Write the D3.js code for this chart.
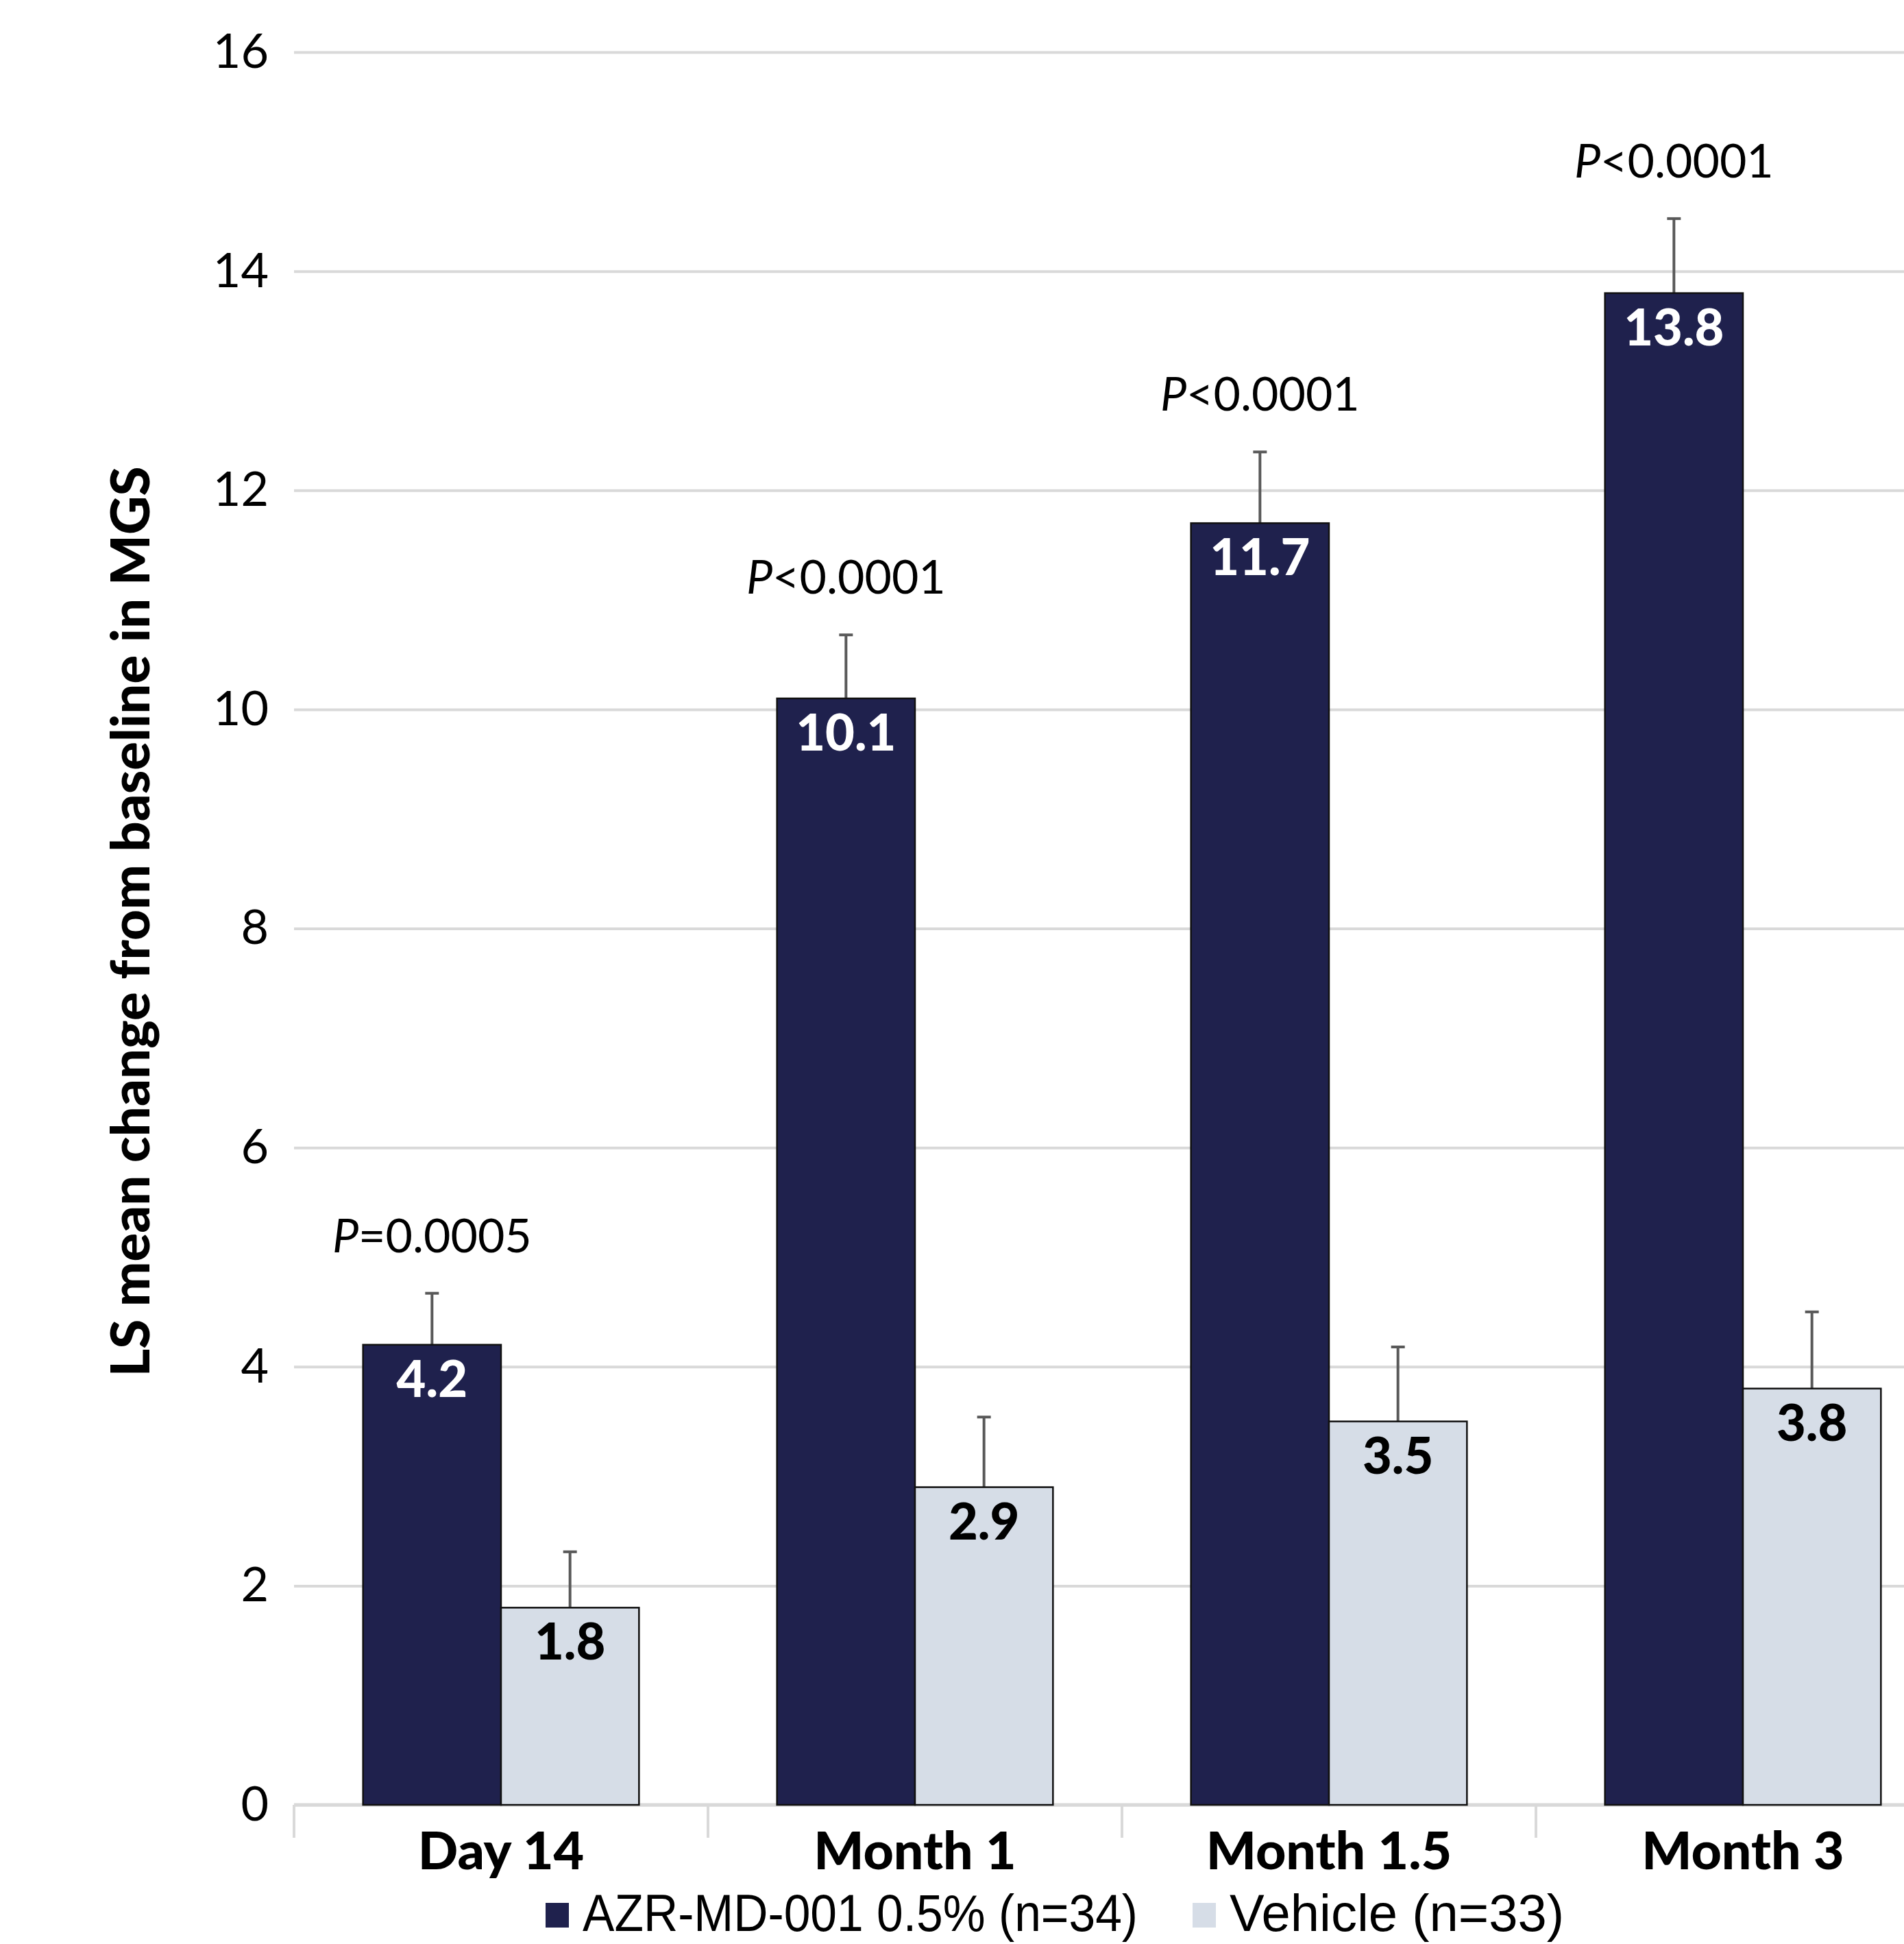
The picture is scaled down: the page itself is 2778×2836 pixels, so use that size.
<!DOCTYPE html>
<html>
<head>
<meta charset="utf-8">
<script src="https://cdn.jsdelivr.net/npm/d3@7"></script>
<style>
  body { margin: 0; background: #fff; }
  svg { display: block; }
</style>
</head>
<body>
<div id="chart"></div>
<script>
// chart values
var categories = ["Day 14", "Month 1", "Month 1.5", "Month 3"];
var seriesNames = ["AZR-MD-001 0.5% (n=34)", "Vehicle (n=33)"];
var azrValues = [4.2, 10.1, 11.7, 13.8];
var vehicleValues = [1.8, 2.9, 3.5, 3.8];
var azrErr = [0.47, 0.58, 0.65, 0.68];
var vehicleErr = [0.51, 0.64, 0.68, 0.70];
var pSigns = ["=", "<", "<", "<"];
var pValues = ["0.0005", "0.0001", "0.0001", "0.0001"];
var yTicks = [0, 2, 4, 6, 8, 10, 12, 14, 16];

var W = 2778, H = 2836;
var colors = ["#1f214d", "#d6dde7"];
var font = "Lato, 'Noto Sans', sans-serif";

var svg = d3.select('#chart').append('svg')
    .attr("width", W)
    .attr("height", H);

// plot area (the right side runs past the picture edge, as in the original)
var plotLeft = 429, plotRight = 2845, plotTop = 76, plotBottom = 2633;

var y = d3.scaleLinear()
    .domain([0, 16])
    .range([plotBottom, plotTop]);

var x0 = d3.scaleBand()
    .domain(categories)
    .range([plotLeft, plotRight])
    .paddingInner(1 / 3)
    .paddingOuter(1 / 6);

var x1 = d3.scaleBand()
    .domain([0, 1])
    .range([0, x0.bandwidth()]);

// gridlines + y tick labels
var yAxis = svg.append("g")
    .attr("transform", "translate(" + plotLeft + ",0)")
    .call(d3.axisLeft(y).tickValues(yTicks).tickSize(-(plotRight - plotLeft)).tickPadding(37));
yAxis.select(".domain").remove();
yAxis.selectAll(".tick line")
    .attr("stroke", "#d9d9d9")
    .attr("stroke-width", 4);
yAxis.selectAll(".tick text")
    .attr("font-family", font)
    .attr("font-size", "70px")
    .attr("fill", "#000");

// x axis line and boundary ticks
svg.append("line")
    .attr("x1", plotLeft).attr("x2", plotRight)
    .attr("y1", y(0)).attr("y2", y(0))
    .attr("stroke", "#d9d9d9")
    .attr("stroke-width", 5);

var bounds = d3.range(categories.length + 1).map(function(i) { return plotLeft + i * x0.step(); });
svg.append("g").selectAll("line")
    .data(bounds)
    .enter().append("line")
    .attr("x1", function(d) { return d; })
    .attr("x2", function(d) { return d; })
    .attr("y1", y(0))
    .attr("y2", y(0) + 48)
    .attr("stroke", "#d9d9d9")
    .attr("stroke-width", 4);

// category labels
svg.append("g").selectAll("text")
    .data(categories)
    .enter().append("text")
    .text(function(d) { return d; })
    .attr("x", function(d) { return x0(d) + x0.bandwidth() / 2; })
    .attr("y", y(0) + 94)
    .attr("text-anchor", "middle")
    .attr("font-family", font)
    .attr("font-weight", "900")
    .attr("font-size", "77px")
    .attr("fill", "#000");

// rows for bars
var rows = [];
categories.forEach(function(c, i) {
    rows.push({ cat: c, s: 0, v: azrValues[i], e: azrErr[i] });
    rows.push({ cat: c, s: 1, v: vehicleValues[i], e: vehicleErr[i] });
});

var bars = svg.append("g");

// error bars (upper only)
bars.selectAll("line.err")
    .data(rows)
    .enter().append("line")
    .attr("class", "err")
    .attr("x1", function(d) { return x0(d.cat) + x1(d.s) + x1.bandwidth() / 2; })
    .attr("x2", function(d) { return x0(d.cat) + x1(d.s) + x1.bandwidth() / 2; })
    .attr("y1", function(d) { return y(d.v); })
    .attr("y2", function(d) { return y(d.v + d.e); })
    .attr("stroke", "#595959")
    .attr("stroke-width", 4);

bars.selectAll("line.cap")
    .data(rows)
    .enter().append("line")
    .attr("class", "cap")
    .attr("x1", function(d) { return x0(d.cat) + x1(d.s) + x1.bandwidth() / 2 - 10; })
    .attr("x2", function(d) { return x0(d.cat) + x1(d.s) + x1.bandwidth() / 2 + 10; })
    .attr("y1", function(d) { return y(d.v + d.e); })
    .attr("y2", function(d) { return y(d.v + d.e); })
    .attr("stroke", "#595959")
    .attr("stroke-width", 4);

bars.selectAll("rect")
    .data(rows)
    .enter().append("rect")
    .attr("x", function(d) { return x0(d.cat) + x1(d.s); })
    .attr("y", function(d) { return y(d.v); })
    .attr("width", x1.bandwidth())
    .attr("height", function(d) { return y(0) - y(d.v); })
    .attr("fill", function(d) { return colors[d.s]; })
    .attr("stroke", "#111")
    .attr("stroke-width", 2.5);

// value labels inside the bars
bars.selectAll("text.val")
    .data(rows)
    .enter().append("text")
    .attr("class", "val")
    .text(function(d) { return d.v.toFixed(1); })
    .attr("x", function(d) { return x0(d.cat) + x1(d.s) + x1.bandwidth() / 2; })
    .attr("y", function(d) { return y(d.v) + 76; })
    .attr("text-anchor", "middle")
    .attr("font-family", font)
    .attr("font-weight", "900")
    .attr("font-size", "74px")
    .attr("fill", function(d) { return d.s === 0 ? "#fff" : "#000"; });

// P values above the AZR bars
var pText = svg.append("g").selectAll("text")
    .data(categories)
    .enter().append("text")
    .attr("x", function(d) { return x0(d) + x1(0) + x1.bandwidth() / 2; })
    .attr("y", function(d, i) { return y(azrValues[i] + azrErr[i]) - 60; })
    .attr("text-anchor", "middle")
    .attr("font-family", font)
    .attr("font-size", "68px")
    .attr("fill", "#000");
pText.append("tspan").attr("font-style", "italic").text("P");
pText.append("tspan").text(function(d, i) { return pSigns[i] + pValues[i]; });

// y axis title
svg.append("text")
    .text("LS mean change from baseline in MGS")
    .attr("transform", "translate(218," + ((plotTop + plotBottom) / 2 - 10) + ") rotate(-90)")
    .attr("text-anchor", "middle")
    .attr("font-family", font)
    .attr("font-weight", "900")
    .attr("font-size", "78px")
    .attr("fill", "#000");

// legend
var legendX = [796, 1740];
var legendW = [810, 488];
var legend = svg.append("g").selectAll("g")
    .data(seriesNames)
    .enter().append("g")
    .attr("transform", function(d, i) { return "translate(" + legendX[i] + ",0)"; });
legend.append("rect")
    .attr("x", 0)
    .attr("y", 2776)
    .attr("width", 34)
    .attr("height", 36)
    .attr("fill", function(d, i) { return colors[i]; });
legend.append("text")
    .text(function(d) { return d; })
    .attr("x", 54)
    .attr("y", 2817)
    .attr("textLength", function(d, i) { return legendW[i]; })
    .attr("lengthAdjust", "spacingAndGlyphs")
    .attr("font-family", "'Liberation Sans Narrow', 'Arial Narrow', sans-serif")
    .attr("font-size", "76px")
    .attr("fill", "#000");
</script>
</body>
</html>
